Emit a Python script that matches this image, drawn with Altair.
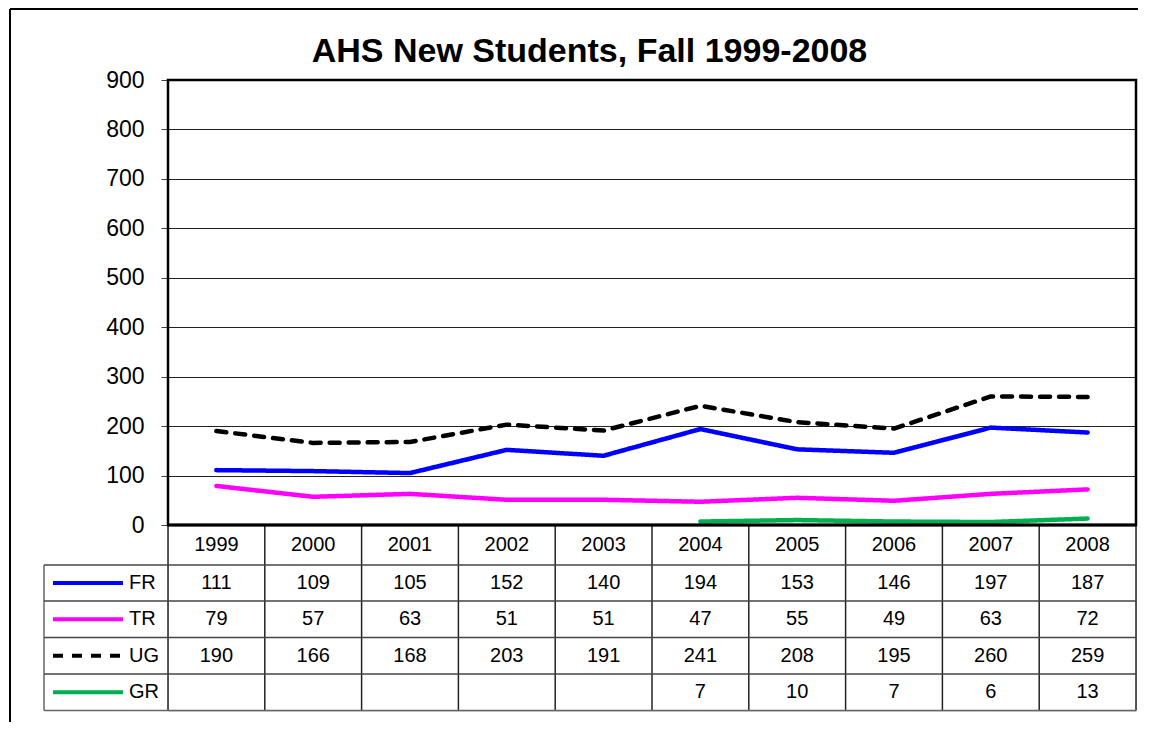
import altair as alt
import pandas as pd

# ---------------- data ----------------
years = [1999, 2000, 2001, 2002, 2003, 2004, 2005, 2006, 2007, 2008]
fr = [111, 109, 105, 152, 140, 194, 153, 146, 197, 187]
tr = [79, 57, 63, 51, 51, 47, 55, 49, 63, 72]
ug = [190, 166, 168, 203, 191, 241, 208, 195, 260, 259]
gr = [None, None, None, None, None, 7, 10, 7, 6, 13]
series_names = ["FR", "TR", "UG", "GR"]
series_colors = ["#0000FF", "#FF00FF", "#000000", "#00B050"]
series_dash = [[1, 0], [1, 0], [10, 9], [1, 0]]
y_ticks = [0, 100, 200, 300, 400, 500, 600, 700, 800, 900]
title_text = "AHS New Students, Fall 1999-2008"

# ---------------- layout (pixels) ----------------
FONT = "Liberation Sans"
W = 968          # plot / table width
H = 631          # whole drawing height (plot + table)
PLOT_H = 445     # plot area height
ROW_LINES = [485, 521, 557.5, 594, 630.5]
HEADER_Y = (PLOT_H + ROW_LINES[0]) / 2
ROW_CENTERS = [(ROW_LINES[i] + ROW_LINES[i + 1]) / 2 for i in range(4)]
LEG_LEFT = -124
PAD_BOTTOM = 12

values = {"FR": fr, "TR": tr, "UG": ug, "GR": gr}
rows = []
for s in series_names:
    for yv, v in zip(years, values[s]):
        if v is not None:
            rows.append({"series": s, "year": yv, "value": v})
long_df = pd.DataFrame(rows)
years_df = pd.DataFrame({"year": years})
one = pd.DataFrame({"k": [0]})

xs = alt.Scale(domain=[years[0] - 0.5, years[-1] + 0.5])
X = alt.X("year:Q", scale=xs, axis=None)
ys = alt.Scale(domain=[0, 900], range=[PLOT_H, 0])
color = alt.Color("series:N", scale=alt.Scale(domain=series_names, range=series_colors), legend=None)
dash = alt.StrokeDash("series:N", scale=alt.Scale(domain=series_names, range=series_dash), legend=None)

layers = []

# outer frame (only its left and top edges fall inside the picture)
layers.append(
    alt.Chart(one).mark_rule(color="black", strokeWidth=2)
    .encode(x=alt.value(-158), y=alt.value(-71), y2=alt.value(H + PAD_BOTTOM - 1))
)
layers.append(
    alt.Chart(one).mark_rule(color="black", strokeWidth=2)
    .encode(x=alt.value(-158), x2=alt.value(W + 2), y=alt.value(-71))
)

# lines (also carry the y axis)
lines = (
    alt.Chart(long_df).mark_line(strokeWidth=4.5, strokeCap="round", strokeJoin="round")
    .encode(
        x=X,
        y=alt.Y("value:Q", scale=ys, title=None,
                axis=alt.Axis(values=y_ticks, grid=True, gridColor="#222", gridWidth=1,
                              domain=False, tickSize=7, tickColor="#444", tickWidth=1,
                              labelFont=FONT, labelFontSize=23, labelColor="black",
                              labelPadding=17)),
        color=color,
        strokeDash=dash,
        detail="series:N",
    )
)

# table vertical lines
layers.append(
    alt.Chart(years_df).transform_calculate(b="datum.year - 0.5")
    .mark_rule(color="#222", strokeWidth=1.5)
    .encode(x=alt.X("b:Q", scale=xs, axis=None), y=alt.value(PLOT_H), y2=alt.value(ROW_LINES[-1]))
)
layers.append(
    alt.Chart(one).mark_rule(color="#222", strokeWidth=1.5)
    .encode(x=alt.value(W), y=alt.value(PLOT_H), y2=alt.value(ROW_LINES[-1]))
)
layers.append(
    alt.Chart(one).mark_rule(color="#666", strokeWidth=1.5)
    .encode(x=alt.value(LEG_LEFT), y=alt.value(ROW_LINES[0]), y2=alt.value(ROW_LINES[-1]))
)
# table horizontal lines
for i, r in enumerate(ROW_LINES):
    layers.append(
        alt.Chart(one).mark_rule(color="#444" if i < len(ROW_LINES) - 1 else "#666", strokeWidth=1.5)
        .encode(x=alt.value(LEG_LEFT), x2=alt.value(W), y=alt.value(r))
    )

layers.append(lines)

# plot frame
layers.append(
    alt.Chart(one).mark_rect(fill=None, stroke="black", strokeWidth=2.5)
    .encode(x=alt.value(0), x2=alt.value(W), y=alt.value(0), y2=alt.value(PLOT_H))
)
layers.append(
    alt.Chart(one).mark_rule(color="black", strokeWidth=3)
    .encode(x=alt.value(0), x2=alt.value(W), y=alt.value(PLOT_H))
)

# table header (years)
layers.append(
    alt.Chart(years_df).mark_text(font=FONT, fontSize=20, color="black", baseline="middle")
    .encode(x=X, y=alt.value(HEADER_Y), text=alt.Text("year:Q", format="d"))
)
# table values + legend column
for s, cy in zip(series_names, ROW_CENTERS):
    layers.append(
        alt.Chart(long_df).transform_filter(alt.datum.series == s)
        .mark_text(font=FONT, fontSize=20, color="black", baseline="middle")
        .encode(x=X, y=alt.value(cy), text="value:Q")
    )
    layers.append(
        alt.Chart(pd.DataFrame({"series": [s]})).mark_rule(strokeWidth=4, strokeCap="butt")
        .encode(x=alt.value(-115), x2=alt.value(-45), y=alt.value(cy), color=color, strokeDash=dash)
    )
    layers.append(
        alt.Chart(pd.DataFrame({"series": [s]})).mark_text(font=FONT, fontSize=20, color="black",
                                                          align="left", baseline="middle")
        .encode(x=alt.value(-39), y=alt.value(cy), text="series:N")
    )

# title
layers.append(
    alt.Chart(one).mark_text(text=title_text, font=FONT, fontSize=34, fontWeight="bold",
                             color="black", align="center", baseline="alphabetic")
    .encode(x=alt.value(421.5), y=alt.value(-18))
)

chart = (
    alt.layer(*layers)
    .properties(width=W, height=H,
                autosize=alt.AutoSizeParams(type="none"),
                padding={"left": 160, "top": 72, "right": 8, "bottom": PAD_BOTTOM})
    .configure_view(strokeWidth=0, strokeOpacity=0)
    .configure(background="white")
)

chart.save("out.html", embed_options={"renderer": "svg", "actions": False})
